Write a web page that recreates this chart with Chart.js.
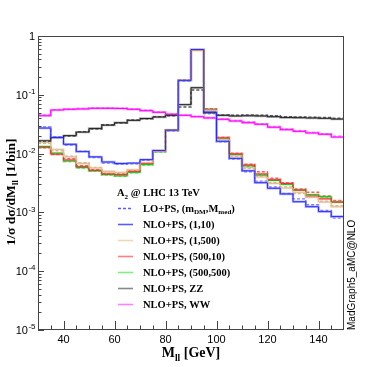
<!DOCTYPE html>
<html>
<head>
<meta charset="utf-8">
<script src="https://cdn.jsdelivr.net/npm/chart.js@4.4.1/dist/chart.umd.min.js"></script>
<style>
  html, body { margin: 0; padding: 0; background: #fff; }
</style>
</head>
<body>
<canvas id="c" width="382" height="367"></canvas>
<script>
// bin edges of the M_ll histogram (GeV), 5 GeV bins
const binEdges = [30, 35, 40, 45, 50, 55, 60, 65, 70, 75, 80, 85, 90, 95, 100, 105, 110, 115, 120, 125, 130, 135, 140, 145, 150]
const xTickValues = [40, 60, 80, 100, 120, 140]
const yDecades = [1e-5, 1e-4, 1e-3, 1e-2, 1e-1, 1]

// (m_DM, M_med) = (1,10)
const nlo_1_10 = [0.0272, 0.0188, 0.0144, 0.0108, 0.0088, 0.0072, 0.0068, 0.0069, 0.0079, 0.0113, 0.0250, 0.176, 0.590, 0.0510, 0.0162, 0.0083, 0.0051, 0.0032, 0.00257, 0.00206, 0.00152, 0.00125, 0.00103, 0.00085]
const lo_1_10 = [0.0285, 0.0192, 0.0140, 0.0110, 0.0086, 0.0069, 0.0066, 0.0067, 0.0077, 0.0112, 0.0245, 0.172, 0.585, 0.0490, 0.0158, 0.0081, 0.0049, 0.0034, 0.0027, 0.0021, 0.0017, 0.00135, 0.00108, 0.00080]
// (1,500)
const nlo_1_500 = [0.0155, 0.0118, 0.0088, 0.0068, 0.0057, 0.0050, 0.0048, 0.0053, 0.0070, 0.0110, 0.0250, 0.175, 0.575, 0.0550, 0.0175, 0.0092, 0.0058, 0.0040, 0.0031, 0.0026, 0.0022, 0.0018, 0.0015, 0.00125]
const lo_1_500 = [0.0150, 0.0112, 0.0090, 0.0070, 0.0058, 0.0049, 0.0047, 0.0052, 0.0069, 0.0108, 0.0245, 0.172, 0.570, 0.0540, 0.0172, 0.0090, 0.0056, 0.0041, 0.0032, 0.0027, 0.0021, 0.0018, 0.00155, 0.0013]
// (500,10)
const nlo_500_10 = [0.0128, 0.0098, 0.0078, 0.0060, 0.0052, 0.0045, 0.0044, 0.0050, 0.0068, 0.0110, 0.0250, 0.175, 0.575, 0.0560, 0.0185, 0.0099, 0.0064, 0.0045, 0.0036, 0.0031, 0.0024, 0.0019, 0.0017, 0.0015]
const lo_500_10 = [0.0125, 0.0096, 0.0082, 0.0062, 0.0053, 0.0046, 0.0045, 0.0051, 0.0069, 0.0112, 0.0255, 0.178, 0.570, 0.0580, 0.0190, 0.0102, 0.0066, 0.0049, 0.0038, 0.0032, 0.0025, 0.0022, 0.0019, 0.0016]
// (500,500)
const nlo_500_500 = [0.0132, 0.0102, 0.0075, 0.0058, 0.0051, 0.0044, 0.0042, 0.0048, 0.0065, 0.0108, 0.0252, 0.176, 0.575, 0.0570, 0.0182, 0.0097, 0.0062, 0.0043, 0.0035, 0.0030, 0.0024, 0.0020, 0.00185, 0.0015]
const lo_500_500 = [0.0130, 0.0100, 0.0073, 0.0057, 0.0050, 0.0043, 0.0041, 0.0047, 0.0064, 0.0106, 0.0250, 0.174, 0.570, 0.0560, 0.0180, 0.0096, 0.0061, 0.0044, 0.0035, 0.0030, 0.0024, 0.0020, 0.0018, 0.0015]
// backgrounds
const nlo_zz = [0.0165, 0.0187, 0.0202, 0.0232, 0.0268, 0.0305, 0.0335, 0.0368, 0.0395, 0.0419, 0.0448, 0.068, 0.132, 0.0496, 0.0448, 0.0436, 0.0440, 0.0436, 0.0424, 0.0410, 0.0408, 0.0403, 0.0398, 0.0386]
const lo_zz = [0.0160, 0.0190, 0.0198, 0.0236, 0.0262, 0.0310, 0.0330, 0.0375, 0.0390, 0.0425, 0.0440, 0.062, 0.121, 0.0480, 0.0455, 0.0450, 0.0455, 0.0450, 0.0440, 0.0425, 0.0420, 0.0415, 0.0410, 0.0400]
const nlo_ww = [0.0441, 0.0551, 0.0567, 0.0574, 0.0589, 0.0589, 0.0585, 0.0567, 0.0537, 0.0504, 0.0466, 0.0448, 0.0424, 0.0403, 0.0383, 0.0358, 0.0335, 0.0315, 0.0280, 0.0255, 0.0239, 0.0224, 0.0213, 0.0191]
const lo_ww = [0.0455, 0.0560, 0.0575, 0.0585, 0.0595, 0.0595, 0.0590, 0.0575, 0.0545, 0.0510, 0.0472, 0.0452, 0.0430, 0.0410, 0.0390, 0.0365, 0.0345, 0.0322, 0.0290, 0.0262, 0.0245, 0.0230, 0.0218, 0.0198]

const series = [
  { nlo: nlo_1_10, lo: lo_1_10, core: '#2a2aff', light: '#b4b4ff', loColor: '#7a7aff' },
  { nlo: nlo_1_500, lo: lo_1_500, core: '#dcbf96', light: '#f5e6d2', loColor: '#d8b88c' },
  { nlo: nlo_500_10, lo: lo_500_10, core: '#ee3030', light: '#ffb8b8', loColor: '#ff5a5a' },
  { nlo: nlo_500_500, lo: lo_500_500, core: '#1fb81f', light: '#a6f4a6', loColor: '#55dd55' },
  { nlo: nlo_zz, lo: lo_zz, core: '#222222', light: '#b4b4b4', loColor: '#555555' },
  { nlo: nlo_ww, lo: lo_ww, core: '#ff00ff', light: '#ffa8ff', loColor: '#ff5aff' },
]

// step histogram points: first value at the lower edge, then each value at its bin's upper edge
const steps = (vals) => binEdges.map((x, i) => ({ x, y: vals[Math.max(i - 1, 0)] }))

const datasets = []
series.forEach((s) => {
  datasets.push({ data: steps(s.nlo), borderColor: s.light, borderWidth: 2.4, order: 3 })
  datasets.push({ data: steps(s.lo), borderColor: s.loColor, borderWidth: 1.4, borderDash: [3, 2], order: 2 })
  datasets.push({ data: steps(s.nlo), borderColor: s.core, borderWidth: 1, order: 1 })
})

const legendTitle = [['A'], ['2', 'sub'], [' @ LHC 13 TeV']]
const legendEntries = [
  { parts: [['LO+PS, (m'], ['DM', 'sub'], [',M'], ['med', 'sub'], [')']], color: '#5a5aff', dash: [3, 2] },
  { parts: [['NLO+PS, (1,10)']], color: '#5a5aff' },
  { parts: [['NLO+PS, (1,500)']], color: '#efd6b6' },
  { parts: [['NLO+PS, (500,10)']], color: '#ff8080' },
  { parts: [['NLO+PS, (500,500)']], color: '#80ee80' },
  { parts: [['NLO+PS, ZZ']], color: '#888888' },
  { parts: [['NLO+PS, WW']], color: '#ff80ff' },
]

const SERIF = '"Liberation Serif", "Times New Roman", serif'
const SANS = '"Liberation Sans", Arial, sans-serif'

// draws text with subscript pieces; returns width
function richText(ctx, parts, x, y, size, align) {
  const fontFor = (p) => p[1] === 'sub' ? `bold ${size * 0.68}px ${SERIF}` : `bold ${size}px ${SERIF}`
  let total = 0
  parts.forEach((p) => { ctx.font = fontFor(p); total += ctx.measureText(p[0]).width })
  let cx = align === 'center' ? x - total / 2 : x
  ctx.textAlign = 'left'
  ctx.textBaseline = 'alphabetic'
  parts.forEach((p) => {
    ctx.font = fontFor(p)
    ctx.fillText(p[0], cx, p[1] === 'sub' ? y + size * 0.25 : y)
    cx += ctx.measureText(p[0]).width
  })
  return total
}

const decorations = {
  id: 'decorations',
  afterDraw(chart) {
    const { ctx, chartArea: a, scales } = chart
    const xs = scales.x, ys = scales.y
    ctx.save()
    ctx.strokeStyle = '#444'
    ctx.lineWidth = 1
    ctx.strokeRect(a.left + 0.5, a.top + 0.5, a.right - a.left - 1, a.bottom - a.top - 1)

    // ticks pointing inward
    ctx.beginPath()
    binEdges.forEach((v) => {
      if (v === 30 || v === 150) return
      const px = Math.round(xs.getPixelForValue(v)) + 0.5
      const len = xTickValues.includes(v) ? 9 : 4.5
      ctx.moveTo(px, a.bottom)
      ctx.lineTo(px, a.bottom - len)
    })
    yDecades.forEach((d) => {
      let py = Math.round(ys.getPixelForValue(d)) + 0.5
      ctx.moveTo(a.left, py)
      ctx.lineTo(a.left + 6, py)
      if (d >= 1) return
      for (let k = 2; k <= 9; k++) {
        py = Math.round(ys.getPixelForValue(k * d)) + 0.5
        ctx.moveTo(a.left, py)
        ctx.lineTo(a.left + 3.5, py)
      }
    })
    ctx.stroke()

    // y tick labels 10^n
    ctx.fillStyle = '#000'
    ctx.textBaseline = 'middle'
    ctx.textAlign = 'right'
    yDecades.forEach((d) => {
      const py = ys.getPixelForValue(d)
      const n = Math.round(Math.log10(d))
      if (n === 0) {
        ctx.font = `11px ${SANS}`
        ctx.fillText('1', 35, py + 1)
        return
      }
      ctx.font = `8px ${SANS}`
      const sup = String(n)
      const w = ctx.measureText(sup).width
      ctx.fillText(sup, 35.5, py - 3)
      ctx.font = `11px ${SANS}`
      ctx.fillText('10', 35 - w, py + 1)
    })

    // legend
    ctx.fillStyle = '#000'
    richText(ctx, legendTitle, 117, 196, 10.5, 'left')
    legendEntries.forEach((e, i) => {
      const y = 208 + i * 16
      ctx.strokeStyle = e.color
      ctx.lineWidth = 1.6
      ctx.setLineDash(e.dash || [])
      ctx.beginPath()
      ctx.moveTo(118, y + 0.5)
      ctx.lineTo(133, y + 0.5)
      ctx.stroke()
      ctx.setLineDash([])
      ctx.fillStyle = '#000'
      richText(ctx, e.parts, 143, y + 3.5, 10.5, 'left')
    })

    // axis titles
    richText(ctx, [['M'], ['ll', 'sub'], [' [GeV]']], 191, 357, 14, 'center')
    ctx.save()
    ctx.translate(15, 192)
    ctx.rotate(-Math.PI / 2)
    richText(ctx, [['1/σ dσ/dM'], ['ll', 'sub'], [' [1/bin]']], 0, 0, 13.5, 'center')
    ctx.restore()

    ctx.save()
    ctx.translate(355, 330)
    ctx.rotate(-Math.PI / 2)
    ctx.font = `10px ${SANS}`
    ctx.textAlign = 'left'
    ctx.textBaseline = 'alphabetic'
    ctx.fillText('MadGraph5_aMC@NLO', 0, 0)
    ctx.restore()
    ctx.restore()
  },
}

new Chart(document.getElementById('c'), {
  type: 'line',
  data: { datasets },
  options: {
    responsive: false,
    animation: false,
    layout: { padding: { top: 36, right: 38, left: 0, bottom: 0 } },
    elements: { point: { radius: 0 }, line: { stepped: 'after', tension: 0 } },
    plugins: { legend: { display: false }, tooltip: { enabled: false } },
    scales: {
      x: {
        type: 'linear',
        min: 30,
        max: 150,
        afterBuildTicks: (s) => { s.ticks = xTickValues.map((v) => ({ value: v })) },
        afterFit: (s) => { s.height = 37 },
        grid: { display: false, drawTicks: false },
        border: { display: false },
        ticks: { color: '#000', padding: 3, maxRotation: 0, font: { family: SANS, size: 11 } },
      },
      y: {
        type: 'logarithmic',
        min: 1e-5,
        max: 1,
        afterBuildTicks: (s) => { s.ticks = yDecades.map((v) => ({ value: v })) },
        afterFit: (s) => { s.width = 38 },
        grid: { display: false, drawTicks: false },
        border: { display: false },
        ticks: { display: false },
      },
    },
  },
  plugins: [decorations],
})
</script>
</body>
</html>
